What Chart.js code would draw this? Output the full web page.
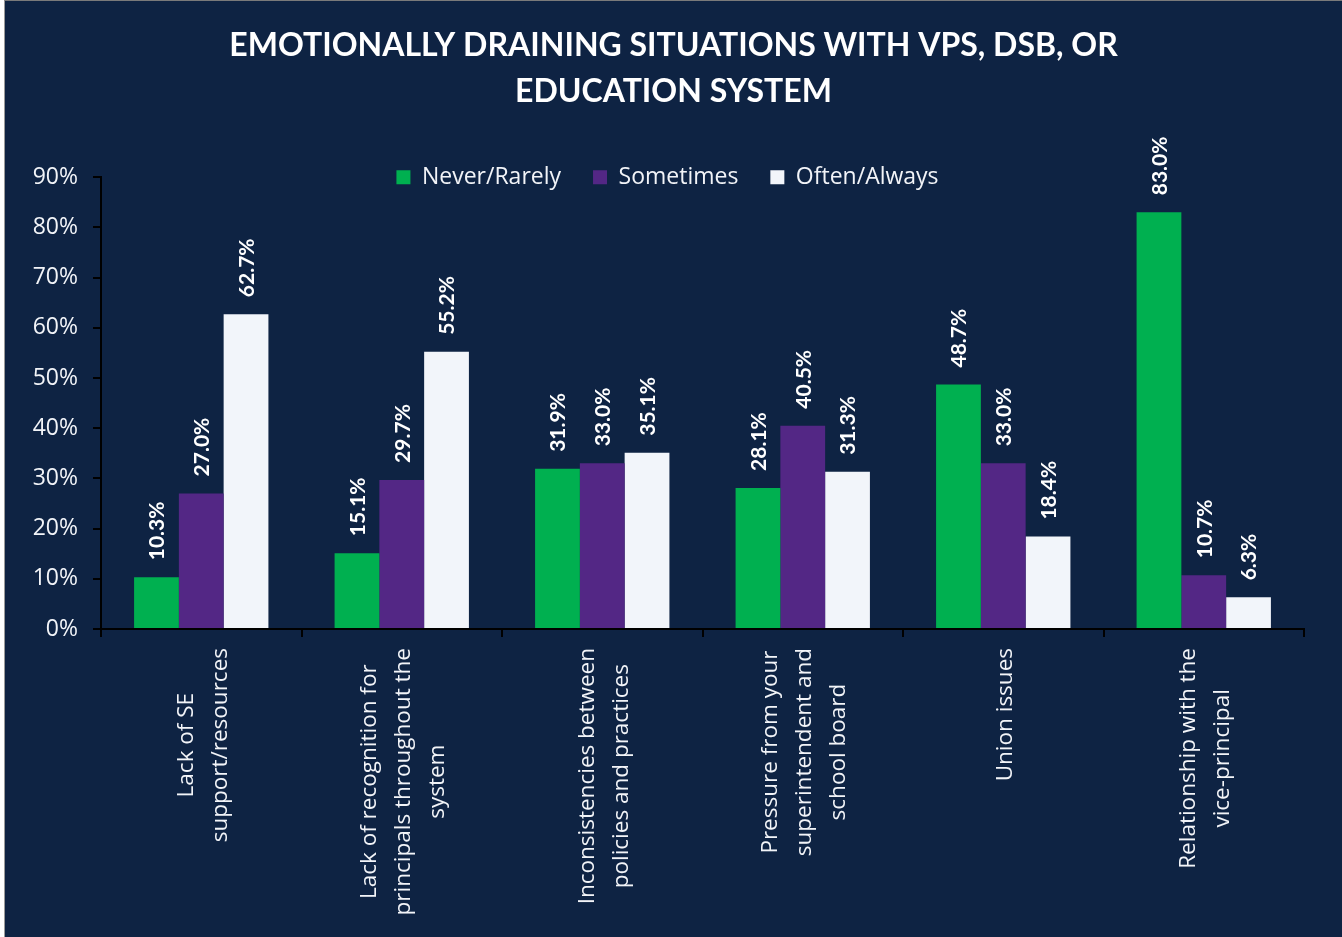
<!DOCTYPE html>
<html>
<head>
<meta charset="utf-8">
<script src="https://cdn.jsdelivr.net/npm/chart.js@4/dist/chart.umd.min.js"></script>
<style>
  html, body { margin: 0; padding: 0; background: #ffffff; }
  #wrap { position: absolute; left: 4px; top: 0; width: 1337px; height: 936px;
          border-left: 1px solid #9a9a9a; border-top: 1px solid #7a7a7a; background: #0e2343; }
  canvas { display: block; }
</style>
</head>
<body>
<div id="wrap"><canvas id="c" width="1337" height="936"></canvas></div>
<script>
const titleLines = ['EMOTIONALLY DRAINING SITUATIONS WITH VPS, DSB, OR', 'EDUCATION SYSTEM'];
const categories = [
  ['Lack of SE', 'support/resources'],
  ['Lack of recognition for', 'principals throughout the', 'system'],
  ['Inconsistencies between', 'policies and practices'],
  ['Pressure from your', 'superintendent and', 'school board'],
  ['Union issues'],
  ['Relationship with the', 'vice-principal']
];
const seriesNames = ['Never/Rarely', 'Sometimes', 'Often/Always'];
const neverRarely = [10.3, 15.1, 31.9, 28.1, 48.7, 83.0];
const sometimes   = [27.0, 29.7, 33.0, 40.5, 33.0, 10.7];
const oftenAlways = [62.7, 55.2, 35.1, 31.3, 18.4, 6.3];
const yTicks = [0, 10, 20, 30, 40, 50, 60, 70, 80, 90];

const TEXT = '#f2f4f8';
const TITLE_FONT = 'Lato, "Open Sans", sans-serif';
const FONT = '"Open Sans", Lato, sans-serif';

const valueLabels = {
  id: 'valueLabels',
  afterDatasetsDraw(chart) {
    const ctx = chart.ctx;
    ctx.save();
    ctx.fillStyle = '#ffffff';
    ctx.font = 'bold 21px ' + TITLE_FONT;
    ctx.textAlign = 'left';
    ctx.textBaseline = 'middle';
    chart.data.datasets.forEach((ds, di) => {
      const meta = chart.getDatasetMeta(di);
      meta.data.forEach((el, i) => {
        ctx.save();
        ctx.translate(el.x, el.y - 17);
        ctx.rotate(-Math.PI / 2);
        ctx.fillText(ds.data[i].toFixed(1) + '%', 0, 1);
        ctx.restore();
      });
    });
    ctx.restore();
  }
};

const categoryLabels = {
  id: 'categoryLabels',
  afterDraw(chart) {
    const ctx = chart.ctx;
    const xs = chart.scales.x;
    ctx.save();
    ctx.fillStyle = TEXT;
    ctx.font = '22.5px ' + FONT;
    ctx.textAlign = 'center';
    ctx.textBaseline = 'middle';
    const lh = 34;
    categories.forEach((lines, i) => {
      const cx = xs.getPixelForValue(i) + 2;
      const maxW = Math.max(...lines.map(l => ctx.measureText(l).width));
      const cy = xs.top + 19 + maxW / 2;
      lines.forEach((line, j) => {
        const x = cx + (j - (lines.length - 1) / 2) * lh;
        ctx.save();
        ctx.translate(x, cy);
        ctx.rotate(-Math.PI / 2);
        ctx.fillText(line, 0, 0);
        ctx.restore();
      });
    });
    ctx.restore();
  }
};

const boxPlacement = {
  id: 'boxPlacement',
  afterLayout(chart) {
    const tb = chart.titleBlock;
    if (tb) { tb.left = 0; tb.right = chart.width; tb.width = chart.width; }
    const lg = chart.legend;
    if (!lg) return;
    lg.left = 0; lg.right = chart.width - 12; lg.width = lg.right - lg.left;
    const pad = lg.options.labels.padding;
    const fs = lg.options.labels.font.size;
    const ih = Math.max(fs, lg.options.labels.boxHeight);
    const newTop = chart.chartArea.top - pad - ih / 2;
    const d = newTop - lg.top;
    lg.top += d; lg.bottom += d;
  }
};

new Chart(document.getElementById('c'), {
  type: 'bar',
  data: {
    labels: categories.map(c => c.join(' ')),
    datasets: [
      { label: seriesNames[0], data: neverRarely, backgroundColor: '#00b050' },
      { label: seriesNames[1], data: sometimes,   backgroundColor: '#532785' },
      { label: seriesNames[2], data: oftenAlways, backgroundColor: '#f2f5fa' }
    ]
  },
  options: {
    responsive: false,
    animation: false,
    devicePixelRatio: 1,
    layout: { padding: { left: 0, right: 38, top: 0, bottom: 0 } },
    datasets: { bar: { categoryPercentage: 0.67, barPercentage: 1.0 } },
    plugins: {
      title: {
        display: true,
        text: titleLines,
        color: '#ffffff',
        font: { family: TITLE_FONT, size: 32, weight: 'bold', lineHeight: 1.44 },
        padding: { top: 22, bottom: -3 }
      },
      legend: {
        display: true,
        position: 'top',
        align: 'center',
        labels: {
          color: TEXT,
          font: { family: FONT, size: 23 },
          boxWidth: 14,
          boxHeight: 14,
          padding: 32
        }
      },
      tooltip: { enabled: false }
    },
    scales: {
      x: {
        grid: { display: true, drawOnChartArea: false, drawTicks: true, tickLength: 8, color: '#000000', lineWidth: 2, offset: true },
        border: { display: true, color: '#000000', width: 2 },
        ticks: { display: false },
        afterFit(scale) { scale.height = 308; }
      },
      y: {
        min: 0, max: 90,
        afterBuildTicks(scale) { scale.ticks = yTicks.map(v => ({ value: v })); },
        grid: { display: true, drawOnChartArea: false, drawTicks: true, tickLength: 8, color: '#000000', lineWidth: 2 },
        border: { display: true, color: '#000000', width: 2 },
        ticks: {
          color: TEXT,
          font: { family: FONT, size: 23 },
          padding: 15,
          callback: v => v + '%'
        },
        afterFit(scale) { scale.width = 96; }
      }
    }
  },
  plugins: [valueLabels, categoryLabels, boxPlacement]
});
</script>
</body>
</html>
